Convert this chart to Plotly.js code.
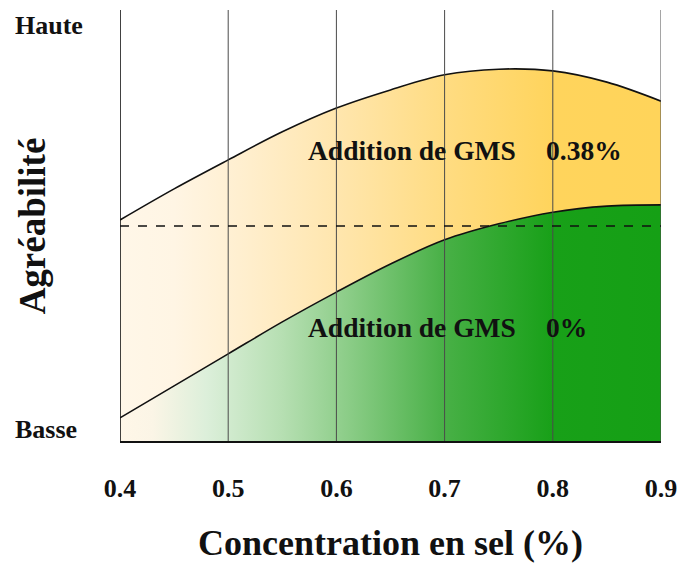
<!DOCTYPE html>
<html>
<head>
<meta charset="utf-8">
<script src="https://cdn.plot.ly/plotly-3.0.1.min.js"></script>
<style>html,body{margin:0;padding:0;background:#fff;}#chart{width:681px;height:563px;}</style>
</head>
<body>
<div id="chart"></div>
<script>
// Data (agreeability on a 0-100 relative scale: Basse -> Haute)
var saltConc = [0.4, 0.45, 0.5, 0.55, 0.6, 0.65, 0.7, 0.75, 0.8, 0.85, 0.9];
var gms038 = [51.4, 58.6, 65.3, 71.8, 77.3, 81.5, 85.0, 86.3, 85.9, 83.3, 78.9];
var gms0 = [5.6, 13.0, 20.4, 27.8, 34.7, 41.2, 46.8, 50.5, 53.2, 54.6, 54.9];
var refLevel = 50;
var xTicks = [0.4, 0.5, 0.6, 0.7, 0.8, 0.9];
var xTickLabels = ["0.4", "0.5", "0.6", "0.7", "0.8", "0.9"];
var seriesLabels = ["Addition de GMS", "Addition de GMS"];
var seriesPct = ["0.38%", "0%"];

var serif = "Liberation Serif, Times New Roman, serif";

var traces = [
  {
    x: saltConc, y: gms0, type: "scatter", mode: "lines",
    line: {color: "#111", width: 1.6, shape: "spline"},
    fill: "tozeroy",
    fillcolor: "#5cb85c",
    fillgradient: {type: "horizontal", start: 0.4, stop: 0.9,
      colorscale: [[0, "#fff7e8"], [0.06, "#fbf5e6"], [0.16, "#dcefda"], [0.3, "#b6dfb2"], [0.42, "#8ccd88"], [0.6, "#48b046"], [0.8, "#18a018"], [1, "#15a015"]]},
    hoverinfo: "skip", showlegend: false
  },
  {
    x: saltConc, y: gms038, type: "scatter", mode: "lines",
    line: {color: "#111", width: 1.6, shape: "spline"},
    fill: "tonexty",
    fillcolor: "#ffe08a",
    fillgradient: {type: "horizontal", start: 0.4, stop: 0.9,
      colorscale: [[0, "#fff7e8"], [0.1, "#fff5e4"], [0.22, "#ffefd0"], [0.4, "#ffe6ae"], [0.6, "#ffdc82"], [0.8, "#ffd45c"], [1, "#ffd45a"]]},
    hoverinfo: "skip", showlegend: false
  }
];

var shapes = [];
xTicks.forEach(function (v, i) {
  shapes.push({type: "line", xref: "x", yref: "paper", x0: v, x1: v, y0: 0, y1: 1,
    line: {color: i === 0 ? "#111" : "#4a4a4a", width: i === 0 ? 1.6 : 1}, layer: "above"});
});
shapes.push({type: "line", xref: "x", yref: "y", x0: 0.4, x1: 0.9, y0: refLevel, y1: refLevel,
  line: {color: "#111", width: 1.5, dash: "dash"}, layer: "above"});
shapes.push({type: "line", xref: "paper", yref: "paper", x0: 0, x1: 1, y0: 0, y1: 0,
  line: {color: "#111", width: 2}, layer: "above"});

var textFont = {family: serif, size: 27.5, color: "#111", weight: "bold"};
var labelFont = {family: serif, size: 26, color: "#111", weight: "bold"};
var annotations = [
  {x: 0.768, y: 67.5, xref: "x", yref: "y", text: "<b>" + seriesLabels[0] + "</b>", showarrow: false, font: textFont, xanchor: "right", yanchor: "middle"},
  {x: 0.792, y: 67.5, xref: "x", yref: "y", text: "<b>" + seriesPct[0] + "</b>", showarrow: false, font: textFont, xanchor: "left", yanchor: "middle"},
  {x: 0.768, y: 26.5, xref: "x", yref: "y", text: "<b>" + seriesLabels[1] + "</b>", showarrow: false, font: textFont, xanchor: "right", yanchor: "middle"},
  {x: 0.792, y: 26.5, xref: "x", yref: "y", text: "<b>" + seriesPct[1] + "</b>", showarrow: false, font: textFont, xanchor: "left", yanchor: "middle"},
  {x: (13 - 120) / 541, y: 96.5, xref: "paper", yref: "y", text: "<b>Haute</b>", showarrow: false, font: labelFont, xanchor: "left", yanchor: "middle"},
  {x: (13 - 120) / 541, y: 2.8, xref: "paper", yref: "y", text: "<b>Basse</b>", showarrow: false, font: labelFont, xanchor: "left", yanchor: "middle"}
];

var layout = {
  width: 681, height: 563,
  margin: {l: 120, r: 20, t: 10, b: 121},
  paper_bgcolor: "#fff", plot_bgcolor: "#fff",
  xaxis: {
    range: [0.4, 0.9], tickvals: xTicks, ticktext: xTickLabels,
    showgrid: false, zeroline: false, showline: false, ticks: "",
    ticklabelstandoff: 28,
    tickfont: {family: serif, size: 26, color: "#111", weight: "bold"},
    title: {text: "<b>Concentration en sel (%)</b>", font: {family: serif, size: 36, color: "#111"}, standoff: 32},
    fixedrange: true
  },
  yaxis: {
    range: [0, 100], showgrid: false, zeroline: false, showline: false,
    showticklabels: false, ticks: "",
    title: {text: "<b>Agréabilité</b>", font: {family: serif, size: 37, color: "#111"}, standoff: 62},
    fixedrange: true
  },
  shapes: shapes,
  annotations: annotations,
  showlegend: false
};

Plotly.newPlot("chart", traces, layout, {displayModeBar: false, staticPlot: true});
</script>
</body>
</html>
